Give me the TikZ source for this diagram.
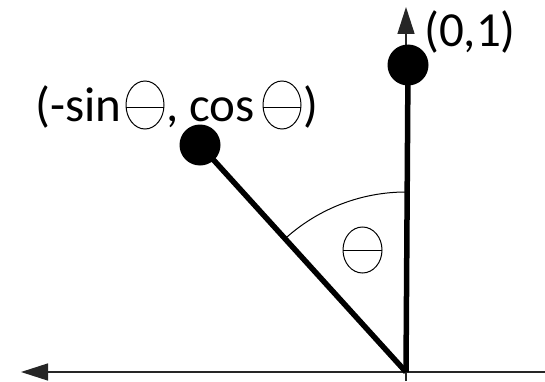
\documentclass[tikz,border=0pt]{standalone}
\usepackage{fontspec}
\setmainfont{Carlito}
\usetikzlibrary{arrows.meta,calc}
\begin{document}
\begin{tikzpicture}[x=1pt,y=1pt,
  dotnode/.style={circle,fill=black,inner sep=0pt,minimum size=41pt},
  thickline/.style={line width=5.5pt},
  axisline/.style={line width=1.4pt,draw=black!85},
  thinline/.style={line width=1pt},
  lbl/.style={font=\fontsize{49}{58}\selectfont,inner sep=0pt},
  tip/.style={-{Triangle[length=27pt,width=17pt]}}
]
\useasboundingbox (0,0) rectangle (545,381);
% coordinates
\coordinate (O) at (406,9);
\coordinate (xend) at (545,9);
\coordinate (xtip) at (21,9);
\coordinate (ybot) at (406,0);
\coordinate (ytip) at (406,374);
% axes
\draw[axisline,tip] (xend) -- (xtip);
\draw[axisline,line width=1.6pt,tip] (ybot) -- (ytip);
% dots
\node[dotnode] (top) at (408,316) {};
\node[dotnode] (left) at (200,236) {};
% thick lines
\draw[thickline] (O) -- (top.center);
\draw[thickline] (O) -- (left.center);
% angle arc
\draw[thinline] ($(O)+(90:180)$) arc[start angle=90,end angle=132,radius=180];
% theta in angle
\draw[thinline] (362.5,131) ellipse[x radius=19.5,y radius=23];
\draw[thinline] (343,131) -- (382,131);
% labels
\node[lbl,anchor=base west] (l01) at (424,334) {(0,1)};
\node[lbl,anchor=base west] (lsin) at (35,260) {(-sin};
\draw[thinline] (145,276) ellipse[x radius=19,y radius=24];
\draw[thinline] (126,274) -- (164,274);
\node[lbl,anchor=base west] (lcos) at (166,260) {, cos};
\draw[thinline] (282,276) ellipse[x radius=19,y radius=24];
\draw[thinline] (263,274) -- (301,274);
\node[lbl,anchor=base west] (lpar) at (303,260) {)};
\end{tikzpicture}
\end{document}
